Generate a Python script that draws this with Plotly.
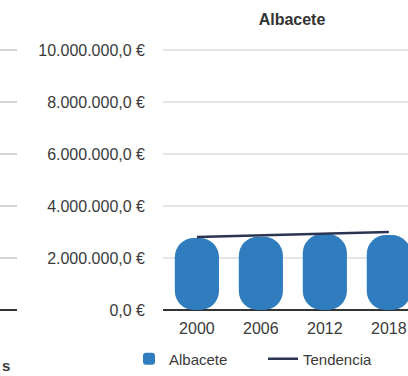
import plotly.graph_objects as go

# Annual totals for Albacete (euros) and the fitted trend
years = ["2000", "2006", "2012", "2018"]
albacete = [2770000, 2820000, 2920000, 2880000]
tendencia = [2810000, 2870000, 2940000, 3000000]

tick_values = [0, 2000000, 4000000, 6000000, 8000000, 10000000]
tick_labels = ["0,0 €", "2.000.000,0 €", "4.000.000,0 €", "6.000.000,0 €",
               "8.000.000,0 €", "10.000.000,0 €"]

W, H = 408, 376
TOP, BOTTOM = 47, 66
Y_MAX = 10115000
BAR_BLUE = "#2f7dbf"
TREND = "#2b3551"
TXT = "#3a3a3a"
FONT = "Liberation Sans, Arial, sans-serif"

xpos = list(range(len(years)))

fig = go.Figure()

# An explicit base makes plotly round both ends of each bar (pill shape)
fig.add_trace(go.Bar(
    x=xpos, y=albacete, base=[0] * len(albacete), name="Albacete",
    marker=dict(color=BAR_BLUE, cornerradius="45%", line=dict(width=0)),
    width=0.69, legendrank=1,
))
fig.add_trace(go.Scatter(
    x=xpos, y=tendencia, name="Tendencia", mode="lines",
    line=dict(color=TREND, width=2.5), legendrank=2,
))

# Edge of the neighbouring panel on the left
fig.add_trace(go.Scatter(x=[0, 1], y=[None, None], xaxis="x2", yaxis="y2",
                         showlegend=False, hoverinfo="skip"))

x0 = 163 / W
plot_h = H - TOP - BOTTOM
fig.update_layout(
    width=W, height=H,
    margin=dict(l=0, r=0, t=TOP, b=BOTTOM),
    paper_bgcolor="white", plot_bgcolor="white",
    barmode="overlay",
    font=dict(family=FONT, color=TXT, size=16),
    title=dict(text="<b>Albacete</b>", x=292 / W, xref="container", xanchor="center",
               y=1 - 19 / H, yref="container", yanchor="middle",
               font=dict(size=16, color="#333333")),
    xaxis=dict(domain=[x0, 1], range=[-0.53, 3.30], tickvals=xpos, ticktext=years,
               showgrid=False, zeroline=False, showline=False, ticks="",
               ticklabelstandoff=7,
               tickfont=dict(size=16, color=TXT), anchor="y"),
    yaxis=dict(range=[0, Y_MAX], tickvals=tick_values, ticktext=tick_labels,
               showgrid=True, gridcolor="#e4e4e4", gridwidth=1.5,
               zeroline=True, zerolinecolor="#333333", zerolinewidth=2,
               showline=False, ticks="", ticklabelstandoff=17,
               tickfont=dict(size=16, color=TXT), anchor="x"),
    xaxis2=dict(domain=[0, 17 / W], range=[0, 1], showgrid=False, zeroline=False,
                showline=False, showticklabels=False, ticks="", anchor="y2"),
    yaxis2=dict(matches="y", tickvals=tick_values, showticklabels=False,
                showgrid=True, gridcolor="#d8d4d0", gridwidth=1.5,
                zeroline=True, zerolinecolor="#333333", zerolinewidth=2,
                showline=False, ticks="", anchor="x2"),
    legend=dict(orientation="h", xref="container", x=129 / W, xanchor="left",
                yref="container", y=1 - 359 / H, yanchor="middle",
                font=dict(size=15, color=TXT), itemwidth=30, entrywidth=89,
                bgcolor="rgba(0,0,0,0)"),
    annotations=[dict(text="<b>s</b>", x=0, xref="paper", xanchor="left",
                      y=(H - BOTTOM - 365) / plot_h, yref="paper", yanchor="middle",
                      showarrow=False, font=dict(size=15, color=TXT))],
)

fig.write_html("out.html")
